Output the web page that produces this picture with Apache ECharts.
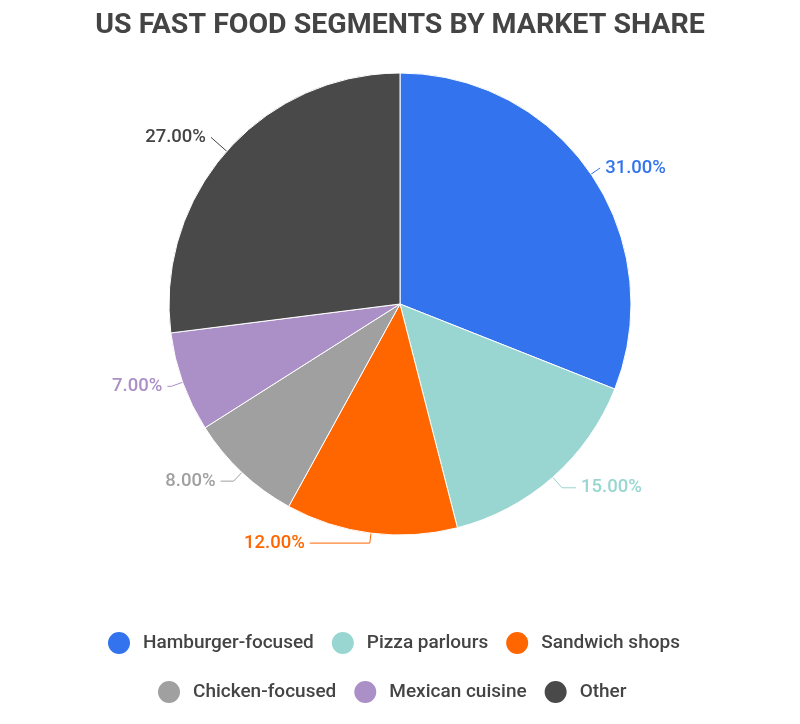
<!DOCTYPE html>
<html><head><meta charset="utf-8">
<script src="https://cdn.jsdelivr.net/npm/echarts@6/dist/echarts.min.js"></script>
<style>html,body{margin:0;padding:0;background:#fff}#c{width:800px;height:724px}</style>
</head><body><div id="c"></div>
<script>
const categories = ['Hamburger-focused','Pizza parlours','Sandwich shops','Chicken-focused','Mexican cuisine','Other'];
const shares = [31, 15, 12, 8, 7, 27];
const colors = ['#3374ee','#99d6d1','#ff6600','#a0a0a0','#ab8fc7','#494949'];
const labelColors = ['#3374ee','#99d6d1','#ff6600','#a0a0a0','#ab8fc7','#444444'];
const lineLen1 = [11, 14, 10, 12, 12, 21];
const lineLen2 = [0, 14, 60, 13, 4, 0];

const chart = echarts.init(document.getElementById('c'));
const legendCommon = {
  icon: 'circle', itemWidth: 24, itemHeight: 24, itemGap: 16, padding: 0,
  textStyle: {fontFamily: 'Roboto', fontSize: 19, fontWeight: 500, color: '#444', padding: [0,0,0,7]},
  selectedMode: false
};
chart.setOption({
  animation: false,
  color: colors,
  title: {
    text: 'US FAST FOOD SEGMENTS BY MARKET SHARE',
    left: 'center', top: 6,
    textStyle: {fontFamily: 'Roboto', fontSize: 28.5, fontWeight: 'bold', color: '#444'}
  },
  legend: [
    Object.assign({}, legendCommon, {data: categories.slice(0,3), left: 106, top: 630}),
    Object.assign({}, legendCommon, {data: categories.slice(3), left: 156, top: 679})
  ],
  series: [{
    type: 'pie',
    center: [400, 304],
    radius: [0, 231],
    startAngle: 90,
    clockwise: true,
    itemStyle: {borderColor: '#fff', borderWidth: 1},
    label: {
      formatter: p => p.value.toFixed(2) + '%',
      fontFamily: 'Roboto', fontSize: 18.5, fontWeight: 500
    },
    labelLine: {length: 14, length2: 4, lineStyle: {width: 1}},
    data: categories.map((n, i) => ({
      name: n, value: shares[i],
      label: {color: labelColors[i]},
      labelLine: {length: lineLen1[i], length2: lineLen2[i], lineStyle: {color: labelColors[i]}}
    }))
  }]
});
</script></body></html>
